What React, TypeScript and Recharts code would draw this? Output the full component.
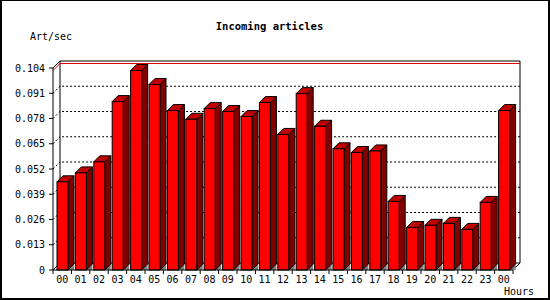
import { BarChart, Bar, XAxis, YAxis, CartesianGrid, ReferenceArea, ReferenceLine } from 'recharts';

const hours = ['00', '01', '02', '03', '04', '05', '06', '07', '08', '09', '10', '11', '12', '13', '14', '15', '16', '17', '18', '19', '20', '21', '22', '23', '00'];
const artPerSec = [
	0.0454, 0.05, 0.0557, 0.0867, 0.1027, 0.0955, 0.0821, 0.0776, 0.0831, 0.0816, 0.079, 0.0862, 0.0698,
	0.0908, 0.074, 0.0624, 0.0605, 0.0613, 0.0353, 0.0219, 0.023, 0.024, 0.0209, 0.0348, 0.0821,
];
const yTicks = [0, 0.013, 0.026, 0.039, 0.052, 0.065, 0.078, 0.091, 0.104];

const data = hours.map((hour, i) => ({ hour, value: artPerSec[i] }));
const maxValue = Math.max(...artPerSec);

const DEPTH = 7; // offset of the back wall
const BAR_DEPTH = 6;
const FONT = '"DejaVu Sans Mono", monospace';

const Bar3D = (props: any) => {
	const { x, y, width: w, height: h } = props;
	const d = BAR_DEPTH;
	const b = y + h;
	return (
		<g stroke="#000" strokeWidth={1}>
			<polygon points={`${x + w},${b} ${x + w + d},${b - d} ${x + w + d},${b}`} fill="#808080" stroke="none" />
			<polygon points={`${x + w},${y} ${x + w + d},${y - d} ${x + w + d},${b - d} ${x + w},${b}`} fill="#800000" />
			<polygon points={`${x},${y} ${x + d},${y - d} ${x + w + d},${y - d} ${x + w},${y}`} fill="#c00000" />
			<rect x={x} y={y} width={w} height={h} fill="#ff0000" />
		</g>
	);
};

const BackWall = (props: any) => {
	const { x, y, width, height } = props;
	const r = x + width;
	const b = y + height;
	return (
		<path
			d={`M${x},${y} L${x + DEPTH},${y - DEPTH} L${r + DEPTH},${y - DEPTH} L${r + DEPTH},${b - DEPTH} L${r},${b}
			M${x + DEPTH},${y - DEPTH} L${x + DEPTH},${b - DEPTH} L${r + DEPTH},${b - DEPTH} M${x},${b} L${x + DEPTH},${b - DEPTH}`}
			fill="none"
			stroke="#000"
			strokeWidth={1}
		/>
	);
};

const gridLine = (props: any) => {
	const { x1, x2, y1, y, height, index } = props;
	if (Math.abs(y1 - y) < 1 || Math.abs(y1 - (y + height)) < 1) return <g key={`g-${index}`} />;
	return (
		<path
			key={`g-${index}`}
			d={`M${x1},${y1} L${x1 + DEPTH},${y1 - DEPTH} L${x2 + DEPTH},${y1 - DEPTH}`}
			fill="none"
			stroke="#000"
			strokeDasharray="2 2"
		/>
	);
};

const maxLine = (props: any) => {
	const { x1, x2, y1 } = props;
	return (
		<path
			d={`M${x1},${y1} L${x1 + DEPTH},${y1 - DEPTH} L${x2 + DEPTH},${y1 - DEPTH}`}
			fill="none"
			stroke="#e00000"
			strokeWidth={1}
		/>
	);
};

const HourTick = (props: any) => {
	const { x, y, payload, index, visibleTicksCount } = props;
	const half = payload.offset || 9.2;
	const last = index === visibleTicksCount - 1;
	return (
		<g>
			<line x1={x - half} y1={y - 4} x2={x - half} y2={y} stroke="#000" />
			{last && <line x1={x + half} y1={y - 4} x2={x + half} y2={y} stroke="#000" />}
			<text x={x} y={y + 5} textAnchor="middle" dominantBaseline="central" fontFamily={FONT} fontSize={10} fill="#000">
				{payload.value}
			</text>
		</g>
	);
};

const label = { position: 'absolute' as const, fontFamily: FONT, fontSize: 10, color: '#000', lineHeight: '12px', whiteSpace: 'nowrap' as const };

export default function App() {
	return (
		<div style={{ position: 'absolute', left: 0, top: 0, width: 550, height: 300, background: '#fff' }}>
			<div
				style={{
					position: 'absolute',
					left: 0,
					top: 0,
					width: 550,
					height: 300,
					boxSizing: 'border-box',
					borderStyle: 'solid',
					borderColor: '#000',
					borderWidth: '1px 2px 2px 2px',
				}}
			/>
			<div style={{ ...label, left: 0, width: 539, top: 20, textAlign: 'center', fontWeight: 'bold', fontSize: 10.5 }}>
				Incoming articles
			</div>
			<div style={{ ...label, left: 30, top: 31 }}>Art/sec</div>
			<div style={{ ...label, left: 504, top: 286 }}>Hours</div>
			<div style={{ position: 'absolute', left: 0, top: 0 }}>
				<BarChart width={550} height={300} data={data} margin={{ top: 68, right: 37, bottom: 10, left: 8 }} barSize={11}>
					<CartesianGrid vertical={false} horizontal={gridLine} />
					<ReferenceArea y1={0} y2={0.104} shape={BackWall} />
					<XAxis
						dataKey="hour"
						axisLine={{ stroke: '#000' }}
						tickLine={false}
						tickSize={4}
						tickMargin={0}
						height={20}
						interval={0}
						tick={HourTick}
					/>
					<YAxis
						width={45}
						domain={[0, 0.104]}
						ticks={yTicks}
						interval={0}
						axisLine={{ stroke: '#000' }}
						tickLine={{ stroke: '#000' }}
						tickSize={4}
						tickMargin={4}
						tickFormatter={(v: number) => (v === 0 ? '0' : v.toFixed(3))}
						tick={{ fill: '#000', fontFamily: FONT, fontSize: 10 }}
					/>
					<ReferenceLine y={maxValue} shape={maxLine} />
					<Bar dataKey="value" shape={Bar3D} isAnimationActive={false} />
				</BarChart>
			</div>
		</div>
	);
}
